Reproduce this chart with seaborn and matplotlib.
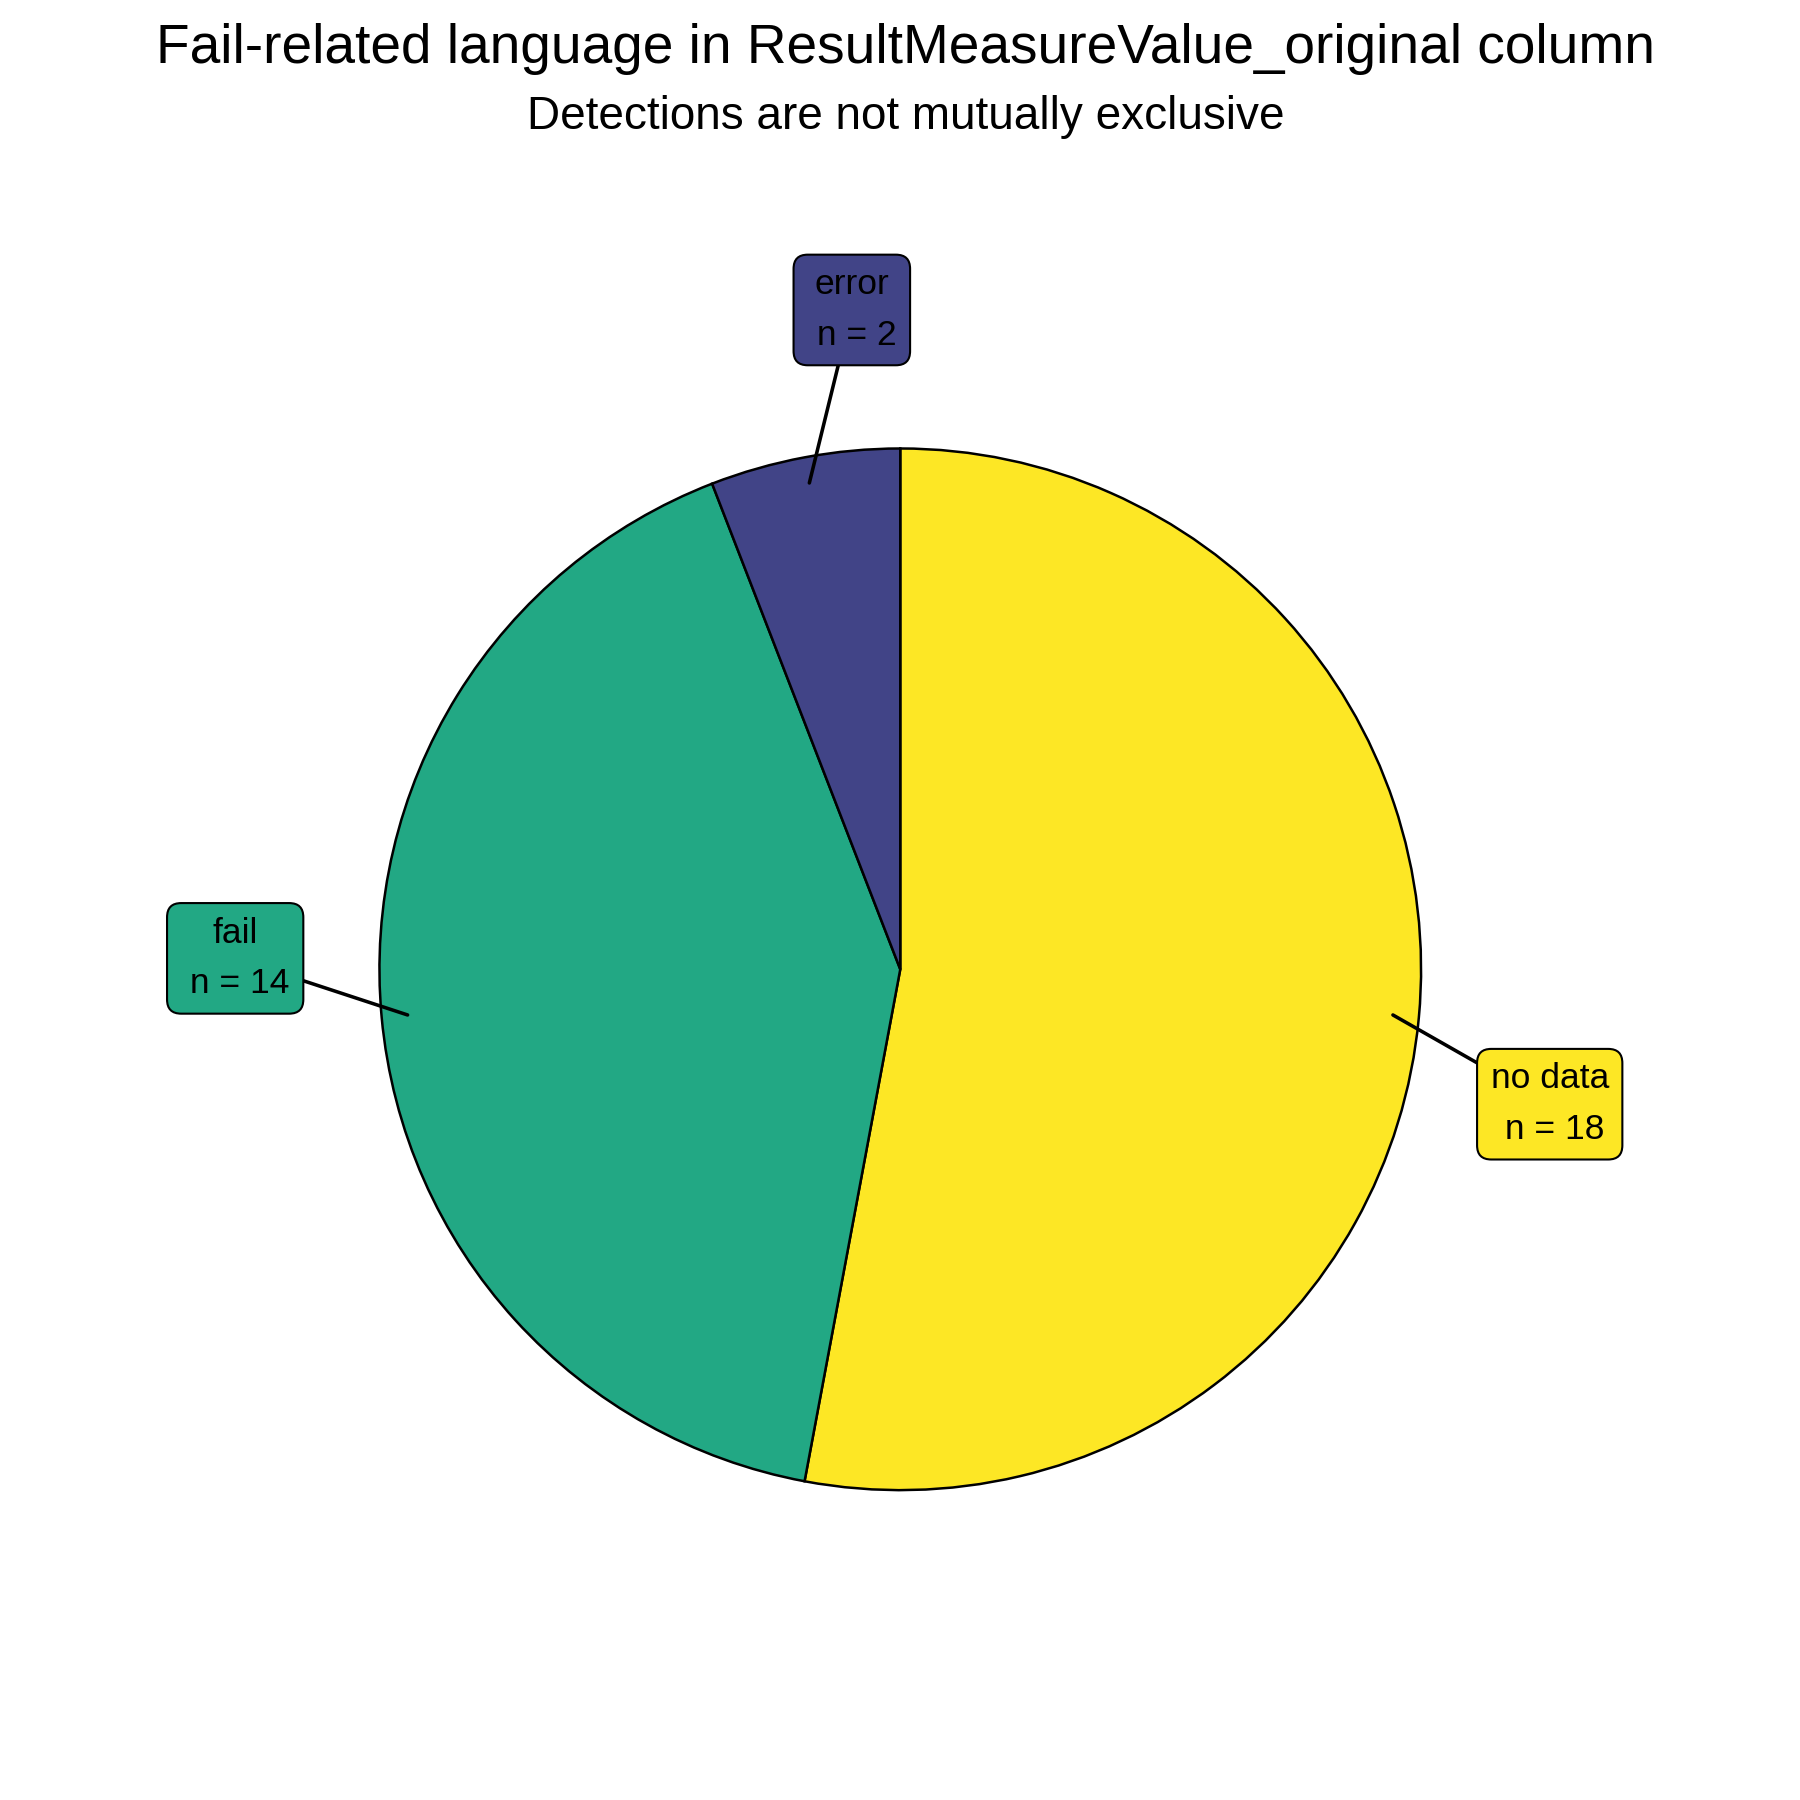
import numpy as np
import matplotlib
matplotlib.use('Agg')
import matplotlib.pyplot as plt
import seaborn as sns

# 数据
categories = ['no data', 'fail', 'error']
counts = [18, 14, 2]
colors = ['#FDE725', '#22A884', '#414487']

title = 'Fail-related language in ResultMeasureValue_original column'
subtitle = 'Detections are not mutually exclusive'

# label box centres (data units, pie radius = 1)
label_xy = {'no data': (1.247, -0.259), 'fail': (-1.277, 0.021), 'error': (-0.093, 1.266)}

sns.set_theme(style='white')
plt.rcParams['font.family'] = ['Liberation Sans', 'DejaVu Sans']

fig = plt.figure(figsize=(6, 6), dpi=300)
ax = fig.add_axes([0, 0, 1, 1])

wedges, _ = ax.pie(counts, colors=colors, startangle=90, counterclock=False,
                   radius=1, center=(0, 0),
                   wedgeprops=dict(edgecolor='black', linewidth=0.6))

for w, cat, n, col in zip(wedges, categories, counts, colors):
    mid = np.deg2rad((w.theta1 + w.theta2) / 2)
    px, py = 0.95 * np.cos(mid), 0.95 * np.sin(mid)
    ax.annotate(f'{cat}\n n = {n}', xy=(px, py), xytext=label_xy[cat],
                ha='center', va='center', fontsize=8.5, linespacing=1.68,
                color='black',
                bbox=dict(boxstyle='round,pad=0.38,rounding_size=0.4',
                          fc=col, ec='black', lw=0.5),
                arrowprops=dict(arrowstyle='-', color='black', lw=0.85,
                                shrinkA=0, shrinkB=0))

s = 1.0044
ax.set_xlim(-1.721 * s, 1.720 * s)
ax.set_ylim(-1.588 * s, 1.853 * s)
ax.set_aspect('auto')
ax.axis('off')

fig.text(0.503, 0.9728, title, ha='center', va='center', fontsize=13.2, color='black')
fig.text(0.503, 0.9348, subtitle, ha='center', va='center', fontsize=11, color='black')

fig.savefig('out.png', dpi=300)
